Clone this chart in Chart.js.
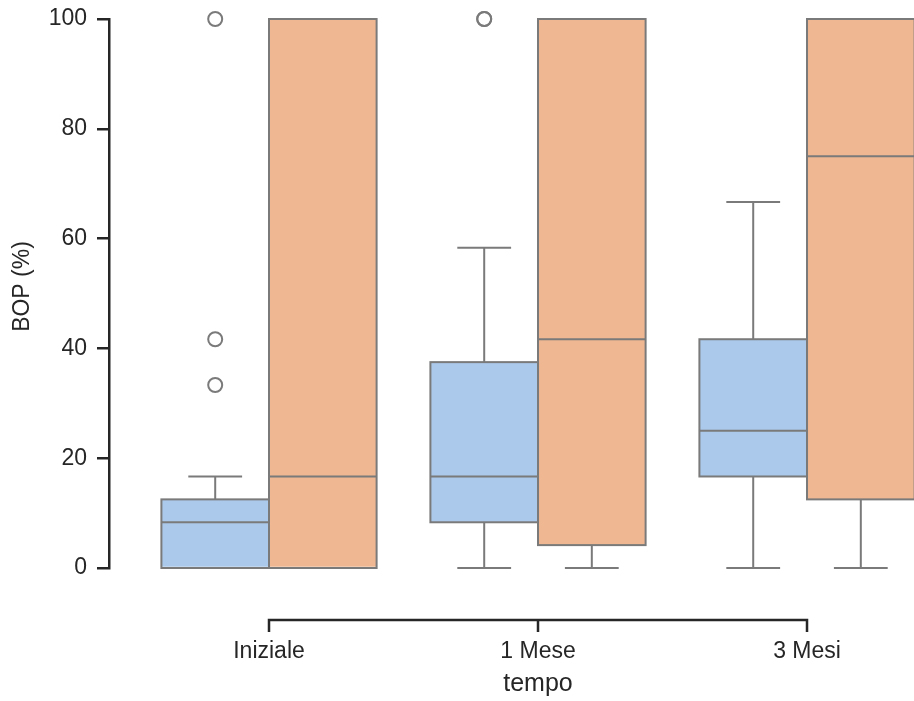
<!DOCTYPE html>
<html lang="it">
<head>
<meta charset="utf-8">
<title>BOP (%) per tempo</title>
<script src="https://cdn.jsdelivr.net/npm/chart.js@4.4.1/dist/chart.umd.min.js"></script>
<style>
  html, body { margin: 0; padding: 0; background: #ffffff; overflow: hidden; }
  canvas { display: block; }
</style>
</head>
<body>
<canvas id="graficoBoxplot" width="930" height="701"></canvas>
<script>
// DATOS DEL BOXPLOT
const categorias = ['Iniziale', '1 Mese', '3 Mesi'];
const ticksY = [0, 20, 40, 60, 80, 100];

// serie azul
const azulMinimo = [0, 0, 0];
const azulQ1 = [0, 8.33, 16.67];
const azulMediana = [8.33, 16.67, 25];
const azulQ3 = [12.5, 37.5, 41.67];
const azulMaximo = [16.67, 58.33, 66.67];
const azulAtipicos = [[33.33, 41.67, 100], [100, 100], []];

// serie naranja
const naranjaMinimo = [0, 0, 0];
const naranjaQ1 = [0, 4.17, 12.5];
const naranjaMediana = [16.67, 41.67, 75];
const naranjaQ3 = [100, 100, 100];
const naranjaMaximo = [100, 100, 100];
const naranjaAtipicos = [[], [], []];

const tituloX = 'tempo';
const tituloY = 'BOP (%)';

const fuente = '"Liberation Sans", Arial, Helvetica, sans-serif';
const colorTexto = '#262626';
const colorEje = '#262626';
const colorLinea = '#7a7a7a';
const anchoGrupo = 0.8;

const series = [
    { min: azulMinimo, q1: azulQ1, med: azulMediana, q3: azulQ3, max: azulMaximo, atipicos: azulAtipicos, color: '#abc9ea' },
    { min: naranjaMinimo, q1: naranjaQ1, med: naranjaMediana, q3: naranjaQ3, max: naranjaMaximo, atipicos: naranjaAtipicos, color: '#efb792' }
];

// cajas, bigotes y medianas sobre las barras flotantes
const pluginCajas = {
    id: 'cajas',
    afterDatasetsDraw(chart) {
        const ctx = chart.ctx;
        const y = chart.scales.y;
        const linea = (x1, y1, x2, y2) => {
            ctx.beginPath();
            ctx.moveTo(x1, y1);
            ctx.lineTo(x2, y2);
            ctx.stroke();
        };
        ctx.save();
        ctx.strokeStyle = colorLinea;
        ctx.lineWidth = 2;
        series.forEach((s, d) => {
            chart.getDatasetMeta(d).data.forEach((barra, i) => {
                const { x, width } = barra.getProps(['x', 'width'], true);
                const yMin = y.getPixelForValue(s.min[i]);
                const yQ1 = y.getPixelForValue(s.q1[i]);
                const yMed = y.getPixelForValue(s.med[i]);
                const yQ3 = y.getPixelForValue(s.q3[i]);
                const yMax = y.getPixelForValue(s.max[i]);
                linea(x, yQ3, x, yMax);
                linea(x, yQ1, x, yMin);
                linea(x - width / 4, yMax, x + width / 4, yMax);
                linea(x - width / 4, yMin, x + width / 4, yMin);
                ctx.strokeRect(x - width / 2, yQ3, width, yQ1 - yQ3);
                linea(x - width / 2, yMed, x + width / 2, yMed);
            });
        });
        ctx.restore();
    }
};

// eje x recortado (estilo seaborn) y titulos de los ejes
const pluginEjes = {
    id: 'ejes',
    afterDraw(chart) {
        const { ctx, chartArea } = chart;
        const x = chart.scales.x;
        const yEje = chartArea.bottom + 52;
        const largo = 12;
        ctx.save();
        ctx.strokeStyle = colorEje;
        ctx.lineWidth = 2.5;
        ctx.lineJoin = 'miter';
        const x0 = x.getPixelForValue(0);
        const x1 = x.getPixelForValue(categorias.length - 1);
        ctx.beginPath();
        ctx.moveTo(x0, yEje + largo);
        ctx.lineTo(x0, yEje);
        ctx.lineTo(x1, yEje);
        ctx.lineTo(x1, yEje + largo);
        for (let i = 1; i < categorias.length - 1; i++) {
            const xt = x.getPixelForValue(i);
            ctx.moveTo(xt, yEje);
            ctx.lineTo(xt, yEje + largo);
        }
        ctx.stroke();

        ctx.fillStyle = colorTexto;
        ctx.textAlign = 'center';
        ctx.textBaseline = 'middle';
        // titulo x centrado en el eje recortado
        ctx.font = '25px ' + fuente;
        ctx.fillText(tituloX, (x0 + x1) / 2, 684);

        ctx.translate(22.5, 286.5);
        ctx.rotate(-Math.PI / 2);
        ctx.font = '23px ' + fuente;
        ctx.fillText(tituloY, 0, 0);
        ctx.restore();
    }
};

const datasets = [];
series.forEach((s) => {
    datasets.push({
        type: 'bar',
        data: categorias.map((c, i) => ({ x: i, y: [s.q1[i], s.q3[i]] })),
        backgroundColor: s.color,
        borderWidth: 0,
        categoryPercentage: anchoGrupo,
        barPercentage: 1
    });
});
series.forEach((s, k) => {
    const desplazamiento = (k - 0.5) * anchoGrupo / 2;
    const puntos = [];
    s.atipicos.forEach((valores, i) => {
        valores.forEach(v => puntos.push({ x: i + desplazamiento, y: v }));
    });
    datasets.push({
        type: 'scatter',
        data: puntos,
        clip: false,
        pointRadius: 7,
        pointHoverRadius: 7,
        borderWidth: 2,
        borderColor: colorLinea,
        backgroundColor: 'rgba(0,0,0,0)'
    });
});

const sinRelleno = (escala) => {
    escala.paddingTop = 0;
    escala.paddingBottom = 0;
    escala.paddingLeft = 0;
    escala.paddingRight = 0;
};

const ctx = document.getElementById('graficoBoxplot').getContext('2d');
new Chart(ctx, {
    type: 'bar',
    data: { datasets: datasets },
    options: {
        responsive: false,
        animation: false,
        layout: {
            autoPadding: false,
            padding: { top: 19, left: 0, right: 0, bottom: 0 }
        },
        scales: {
            x: {
                type: 'linear',
                bounds: 'data',
                offset: false,
                min: -0.5948,
                max: 2.4572,
                afterBuildTicks: (escala) => {
                    escala.ticks = categorias.map((c, i) => ({ value: i }));
                },
                afterFit: (escala) => {
                    escala.height = 133;
                    sinRelleno(escala);
                },
                ticks: {
                    callback: (valor) => categorias[valor],
                    color: colorTexto,
                    font: { family: fuente, size: 23 },
                    padding: 70,
                    maxRotation: 0,
                    autoSkip: false
                },
                grid: { display: false, drawTicks: false, offset: false },
                border: { display: false },
                title: { display: false }
            },
            y: {
                min: 0,
                max: 100,
                afterBuildTicks: (escala) => {
                    escala.ticks = ticksY.map(v => ({ value: v }));
                },
                afterFit: (escala) => {
                    escala.width = 109;
                    sinRelleno(escala);
                },
                ticks: {
                    color: colorTexto,
                    font: { family: fuente, size: 23 },
                    padding: 10
                },
                grid: {
                    display: true,
                    drawOnChartArea: false,
                    drawTicks: true,
                    tickLength: 12,
                    color: colorEje,
                    lineWidth: 2.5
                },
                border: { display: true, color: colorEje, width: 2.5 }
            }
        },
        plugins: {
            legend: { display: false },
            tooltip: { enabled: false }
        }
    },
    plugins: [pluginCajas, pluginEjes]
});
</script>
</body>
</html>
